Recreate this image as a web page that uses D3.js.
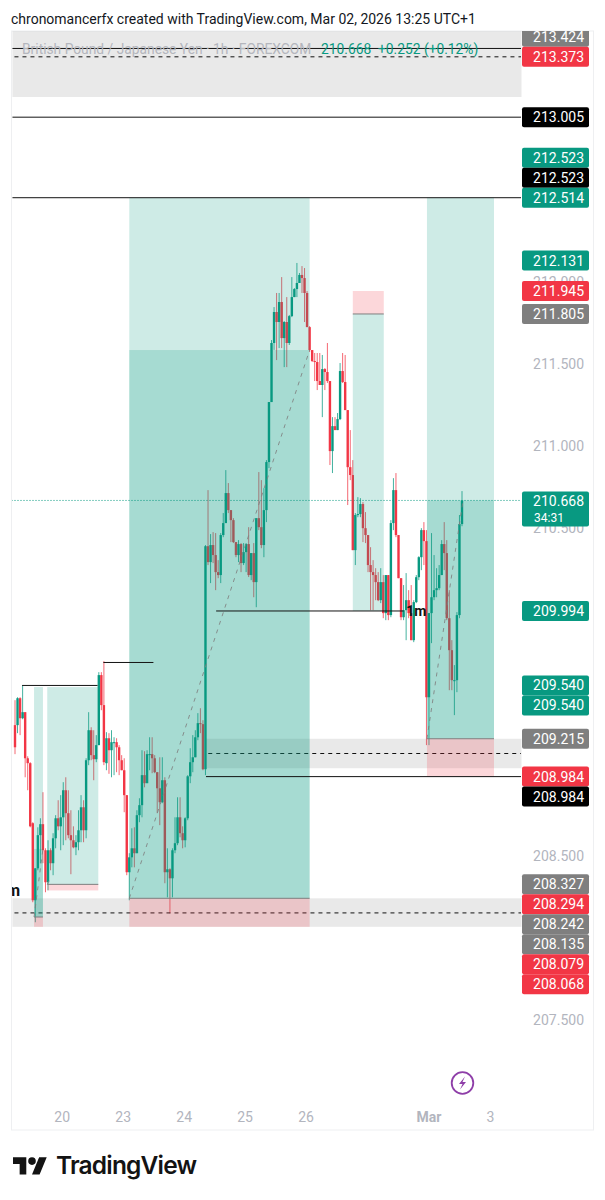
<!DOCTYPE html>
<html><head><meta charset="utf-8">
<script src="https://cdn.jsdelivr.net/npm/d3@7/dist/d3.min.js"></script>
<style>html,body{margin:0;padding:0;background:#fff}svg{display:block}text{font-family:Roboto,sans-serif}</style>
</head><body><div id="c"></div>
<script>
// ---- candle data (GBP/JPY 1h, FOREXCOM) ----
const opens=[209.298,209.298,209.462,209.340,209.377,209.096,209.066,208.700,208.230,208.425,208.627,208.694,208.535,208.340,208.535,208.456,208.608,208.730,208.681,208.736,208.901,208.761,208.627,208.596,208.553,208.584,208.657,208.797,208.657,209.084,209.267,209.115,209.090,209.176,209.603,209.420,209.066,209.218,209.145,209.194,209.194,209.163,209.084,209.023,208.871,208.401,208.492,208.547,208.517,208.749,208.810,208.993,208.944,209.121,209.121,209.096,209.011,208.913,208.828,208.962,208.401,208.419,208.364,208.535,208.578,208.736,208.639,208.596,208.730,208.986,209.072,209.102,209.224,209.310,209.304,209.029,210.389,210.292,210.396,210.335,210.231,210.213,210.457,210.530,210.713,210.609,210.548,210.414,210.335,210.402,210.286,210.353,210.402,210.213,210.347,210.170,210.560,210.505,210.396,210.609,210.902,211.268,211.628,211.817,211.756,211.878,211.658,211.756,211.628,211.792,211.908,211.957,211.994,212.043,212.024,211.933,211.725,211.585,211.518,211.512,211.396,211.372,211.469,211.451,211.396,210.969,211.121,211.097,211.164,211.457,211.390,211.219,210.871,210.823,210.365,210.579,210.585,210.646,210.499,210.457,210.274,210.231,210.213,210.170,210.060,210.170,209.981,210.213,209.969,210.530,210.731,210.457,210.194,209.956,209.999,210.060,209.981,209.816,210.048,210.200,210.322,210.487,210.420,209.468,209.981,210.078,210.121,210.133,210.213,210.402,210.347,209.950,209.755,209.572,209.572,209.969,210.524];
const highs=[209.450,209.468,209.468,209.542,209.377,209.108,209.072,208.706,208.425,208.675,208.730,208.889,208.547,208.596,208.547,208.639,208.749,208.840,208.871,208.950,208.980,208.901,208.779,208.681,208.627,208.779,208.871,208.840,209.096,209.377,209.285,209.267,209.237,209.621,209.621,209.688,209.255,209.249,209.267,209.224,209.218,209.176,209.115,209.096,208.871,208.517,208.669,208.675,208.779,208.852,209.145,209.139,209.145,209.224,209.224,209.115,209.011,209.102,209.102,208.980,208.547,208.425,208.547,208.736,208.858,208.858,208.681,208.736,208.993,209.157,209.237,209.267,209.371,209.401,209.328,210.396,210.731,210.463,210.475,210.469,210.304,210.469,210.591,210.853,210.774,210.609,210.560,210.414,210.426,210.408,210.408,210.408,210.505,210.347,210.408,210.560,210.841,210.792,210.743,210.914,211.268,211.646,211.847,211.933,211.933,212.030,211.762,211.908,211.799,212.030,211.963,212.116,212.055,212.097,212.085,211.945,211.731,211.585,211.567,211.567,211.567,211.555,211.475,211.628,211.396,211.176,211.176,211.201,211.506,211.567,211.555,211.219,211.097,210.914,210.591,210.688,210.682,210.658,210.597,210.457,210.383,210.304,210.255,210.231,210.255,210.213,210.213,210.213,210.548,210.804,210.835,210.457,210.194,210.152,210.225,210.121,210.152,210.060,210.213,210.328,210.499,210.536,210.487,209.981,210.469,210.335,210.255,210.274,210.426,210.536,210.426,210.121,209.816,209.664,209.987,210.579,210.725];
const lows=[209.121,209.249,209.237,209.334,208.980,208.901,208.675,208.218,208.096,208.413,208.456,208.456,208.279,208.291,208.413,208.383,208.547,208.657,208.535,208.566,208.596,208.608,208.389,208.547,208.505,208.535,208.584,208.584,208.608,209.054,209.084,208.962,209.072,209.176,209.389,209.054,209.023,209.001,208.980,208.993,209.011,208.993,209.023,208.767,208.383,208.230,208.431,208.431,208.517,208.706,208.736,208.919,208.944,209.023,209.005,209.005,208.761,208.688,208.822,208.334,208.248,208.150,208.248,208.517,208.566,208.614,208.547,208.553,208.718,208.944,209.011,209.102,209.206,209.249,209.023,208.993,210.274,210.164,210.286,210.121,210.194,210.164,210.444,210.530,210.591,210.414,210.408,210.322,210.292,210.231,210.274,210.231,210.201,210.182,210.078,210.017,210.487,210.377,210.322,210.536,210.865,211.268,211.586,211.524,211.597,211.597,211.481,211.481,211.616,211.786,211.908,211.908,211.994,211.933,211.756,211.725,211.573,211.512,211.396,211.341,211.372,211.176,211.341,211.384,210.884,210.835,211.097,211.097,211.158,211.384,211.219,210.640,210.792,210.365,210.274,210.566,210.566,210.414,210.408,210.231,209.999,209.999,210.060,210.054,210.042,209.950,209.938,209.938,209.956,210.487,210.444,210.194,209.938,209.938,209.816,209.950,209.816,209.804,210.042,210.182,210.243,210.274,209.176,209.176,209.798,210.060,210.078,210.121,210.213,210.243,209.938,209.511,209.511,209.359,209.499,209.950,210.511];
const closes=[209.163,209.462,209.340,209.377,209.096,209.066,208.681,208.230,208.425,208.627,208.694,208.535,208.340,208.535,208.456,208.608,208.730,208.681,208.736,208.901,208.761,208.627,208.596,208.553,208.584,208.657,208.797,208.657,209.084,209.267,209.115,209.090,209.176,209.603,209.420,209.072,209.218,209.145,209.194,209.194,209.163,209.084,209.023,208.871,208.401,208.492,208.547,208.517,208.749,208.810,208.993,208.944,209.121,209.121,209.096,209.011,208.913,208.828,208.962,208.401,208.419,208.364,208.535,208.578,208.736,208.639,208.596,208.730,208.986,209.072,209.102,209.224,209.310,209.304,209.029,210.389,210.292,210.396,210.335,210.231,210.213,210.457,210.530,210.713,210.609,210.548,210.414,210.335,210.402,210.286,210.353,210.402,210.213,210.347,210.170,210.560,210.505,210.396,210.609,210.902,211.268,211.628,211.817,211.756,211.878,211.658,211.756,211.628,211.792,211.908,211.957,211.994,212.043,212.024,211.933,211.725,211.585,211.518,211.512,211.396,211.372,211.469,211.451,211.396,210.969,211.121,211.097,211.164,211.457,211.390,211.219,210.871,210.823,210.365,210.579,210.585,210.646,210.499,210.457,210.274,210.231,210.213,210.170,210.060,210.170,209.981,210.213,209.969,210.530,210.731,210.457,210.194,209.956,209.999,210.060,209.981,209.816,210.048,210.200,210.322,210.487,210.420,209.468,209.981,210.078,210.121,210.133,210.213,210.402,210.347,209.950,209.755,209.572,209.572,209.969,210.524,210.668];

// ---- axes ----
const priceTicks=[207.5,208.5,210.5,211,211.5,212];
const timeTickBars=[18.4,42.4,66.4,90.4,114.4,162.8,187];
const timeTickLabels=["20","23","24","25","26","Mar","3"];

// ---- price labels on the right ----
const labelText=["213.424","213.373","213.005","212.523","212.523","212.514","212.131","211.945","211.805","209.994","209.540","209.540","209.215","208.984","208.984","208.327","208.294","208.242","208.135","208.079","208.068"];
const labelAnchor=[213.373,213.373,213.005,212.514,212.514,212.514,212.131,211.945,211.805,209.994,209.540,209.540,209.215,208.984,208.984,208.327,208.327,208.327,208.327,208.327,208.327];
const labelStep=[-1,0,0,-2,-1,0,0,0,0,0,0,1,0,0,1,0,1,2,3,4,5];
const labelKind=["g","r","k","t","k","t","t","r","g","t","t","t","g","r","k","g","r","g","g","r","r"];
const lastPrice=210.668, lastText="210.668", countdown="34:31";

// ---- drawings (prices and bar numbers) ----
const bandTop=[213.53,208.242,209.215], bandBottom=[213.128,208.068,209.035], bandStart=[-1,-1,75.3], bandMid=[213.373,208.153,209.125];
const solidPrice=[213.424,213.005,212.514,208.984,209.540,209.680,209.994], solidFrom=[-1,-1,-1,75.2,2.8,34.8,79.2], solidTo=[200,200,200,200,32.5,54.5,153];
const boxStart=[45,7.5,12.7,133,162.2], boxEnd=[116,11,32.8,145.2,188.6];
const boxEntry=[208.242,208.128,208.327,211.805,209.215];
const boxTarget=[212.514,209.530,209.530,209.994,212.514];
const boxStopEdge=[208.068,208.068,208.290,211.945,208.984];
const boxFillTop=[211.585,208.543,null,null,210.668];
const diagFromBar=[45,7.5,12.7,162.2], diagFromPrice=[208.242,208.128,208.327,209.215], diagToBar=[116,11,13.7,176.4], diagToPrice=[211.585,208.543,208.360,210.668];

const W=605,H=1200;
const frame={l:11.5,r:593.5,t:31,b:1130,plot:521};
const x=d3.scaleLinear().domain([0,176]).range([15,462]);
const y=d3.scaleLinear().domain([207.5,211.5]).range([1020,364]);
const UP="#089981",DOWN="#f23645";
const KIND={g:"#7f7f7f",r:"#f23645",k:"#000",t:"#089981"};

const svg=d3.select("#c").append("svg").attr("width",W).attr("height",H).attr("viewBox",`0 0 ${W} ${H}`);
const defs=svg.append("defs");
defs.append("clipPath").attr("id","plot").append("rect").attr("x",frame.l+.5).attr("y",frame.t).attr("width",frame.plot-frame.l).attr("height",frame.b-frame.t);
defs.append("clipPath").attr("id","all").append("rect").attr("x",frame.l).attr("y",frame.t).attr("width",frame.r-frame.l).attr("height",frame.b-frame.t);

svg.append("text").attr("x",11).attr("y",24).attr("font-size",14).attr("fill","#131722").text("chronomancerfx created with TradingView.com, Mar 02, 2026 13:25 UTC+1");
svg.append("rect").attr("x",frame.l).attr("y",frame.t).attr("width",frame.r-frame.l).attr("height",frame.b-frame.t).attr("fill","#fff").attr("stroke","#eeeff1");

const plot=svg.append("g").attr("clip-path","url(#plot)");

// axes
const yAxis=svg.append("g").attr("transform",`translate(584,0)`).call(d3.axisLeft(y).tickValues(priceTicks).tickFormat(d3.format(".3f")).tickSize(0));
yAxis.select(".domain").remove();
yAxis.selectAll("text").attr("x",0).attr("font-size",14).attr("font-family","Roboto").attr("fill","#b2b5be").attr("text-anchor","end");

const xAxis=svg.append("g").attr("transform","translate(0,1107)").call(d3.axisBottom(x).tickValues(timeTickBars).tickFormat((d,i)=>timeTickLabels[i]).tickSize(0));
xAxis.select(".domain").remove();
xAxis.selectAll("text").attr("font-size",14).attr("font-family","Roboto").attr("fill","#b2b5be").attr("font-weight",d=>d===162.8?700:400).attr("dy",12);

// legend
const leg=svg.append("g").attr("clip-path","url(#plot)");
leg.append("text").attr("x",22).attr("y",54).attr("font-size",13.8).attr("fill","#b4b6bd").text("British Pound / Japanese Yen · 1h · FOREXCOM");
leg.append("text").attr("x",321).attr("y",54).attr("font-size",13.8).attr("fill","#089981").style("white-space","pre").text("210.668  +0.252 (+0.12%)");

// dotted last price line
plot.append("line").attr("x1",frame.l).attr("x2",frame.plot).attr("y1",y(lastPrice)).attr("y2",y(lastPrice)).attr("stroke","#089981").attr("stroke-dasharray","1 2");

// candles
const bars=d3.range(opens.length).map(i=>({i,o:opens[i],h:highs[i],l:lows[i],c:closes[i]}));
const cg=plot.append("g");
cg.selectAll("line").data(bars).join("line").attr("x1",d=>x(d.i)).attr("x2",d=>x(d.i)).attr("y1",d=>y(d.h)).attr("y2",d=>y(d.l))
  .attr("stroke",d=>d.c>=d.o?UP:DOWN).attr("stroke-width",1).attr("opacity",.75);
cg.selectAll("rect").data(bars).join("rect").attr("x",d=>x(d.i)-1.2).attr("width",2.4)
  .attr("y",d=>y(Math.max(d.o,d.c))).attr("height",d=>Math.max(1,Math.abs(y(d.o)-y(d.c))))
  .attr("fill",d=>d.c>=d.o?UP:DOWN);

// grey bands
const ov=plot.append("g");
bandTop.forEach((t,i)=>{
  ov.append("rect").attr("x",x(bandStart[i])).attr("width",600).attr("y",y(t)).attr("height",y(bandBottom[i])-y(t)).attr("fill","rgba(120,120,120,.16)");
  ov.append("line").attr("x1",Math.max(x(bandStart[i])+2,frame.l)).attr("x2",frame.plot).attr("y1",y(bandMid[i])).attr("y2",y(bandMid[i])).attr("stroke","#111").attr("stroke-dasharray","4 4");
});

// position boxes
boxStart.forEach((s,i)=>{
  const x0=x(s),w=x(boxEnd[i])-x0;
  const profitTop=Math.min(y(boxTarget[i]),y(boxEntry[i])), profitBottom=Math.max(y(boxTarget[i]),y(boxEntry[i]));
  ov.append("rect").attr("x",x0).attr("width",w).attr("y",profitTop).attr("height",profitBottom-profitTop).attr("fill","rgba(8,153,129,.2)");
  if(boxFillTop[i]!==null) ov.append("rect").attr("x",x0).attr("width",w).attr("y",y(boxFillTop[i])).attr("height",y(boxEntry[i])-y(boxFillTop[i])).attr("fill","rgba(8,153,129,.2)");
  const a=Math.min(y(boxEntry[i]),y(boxStopEdge[i])), b=Math.max(y(boxEntry[i]),y(boxStopEdge[i]));
  ov.append("rect").attr("x",x0).attr("width",w).attr("y",a).attr("height",b-a).attr("fill","rgba(242,54,69,.2)");
  ov.append("line").attr("x1",x0).attr("x2",x0+w).attr("y1",y(boxEntry[i])).attr("y2",y(boxEntry[i])).attr("stroke","#7f7f7f");
});
// dashed diagonals
diagFromBar.forEach((b,i)=>ov.append("line").attr("x1",x(b)).attr("y1",y(diagFromPrice[i])).attr("x2",x(diagToBar[i])).attr("y2",y(diagToPrice[i])).attr("stroke","#7f7f7f").attr("stroke-opacity",.85).attr("stroke-dasharray","4 5"));

// solid level lines
solidPrice.forEach((p,i)=>ov.append("line").attr("x1",Math.max(x(solidFrom[i]),frame.l)).attr("x2",Math.min(x(solidTo[i]),frame.plot)).attr("y1",y(p)).attr("y2",y(p)).attr("stroke","#131313").attr("stroke-width",1));
ov.append("text").attr("x",x(154)).attr("y",y(209.994)+5).attr("font-size",14).attr("font-weight",700).attr("fill","#111").text("1m");
ov.append("text").attr("x",20).attr("y",896).attr("text-anchor","end").attr("font-size",16).attr("font-weight",700).attr("fill","#111").text("m");

// right labels
const lg=svg.append("g").attr("clip-path","url(#all)");
labelText.forEach((t,i)=>{
  const cy=y(labelAnchor[i])+labelStep[i]*20;
  lg.append("rect").attr("x",522).attr("width",67).attr("y",cy-10).attr("height",20).attr("rx",2).attr("fill",KIND[labelKind[i]]);
  lg.append("text").attr("x",584).attr("y",cy+5).attr("text-anchor","end").attr("font-size",14).attr("fill","#fff").text(t);
});
const ly=y(lastPrice);
lg.append("rect").attr("x",522).attr("width",67).attr("y",ly-9).attr("height",35).attr("rx",2).attr("fill",UP);
lg.append("text").attr("x",584).attr("y",ly+6).attr("text-anchor","end").attr("font-size",14).attr("fill","#fff").text(lastText);
lg.append("text").attr("x",534).attr("y",ly+22).attr("font-size",12).attr("fill","#fff").text(countdown);

// lightning icon
const ic=svg.append("g").attr("transform","translate(462.5,1083)");
ic.append("circle").attr("r",10.8).attr("fill","#fff").attr("stroke","#8e3ea8").attr("stroke-width",1.8);
ic.append("path").attr("d","M2.5 -6.5 L-3.5 1 L0 1 L-2.5 6.5 L3.5 -1 L0 -1 Z").attr("fill","#8e3ea8");

// TradingView logo
const lo=svg.append("g").attr("transform","translate(13,1153.5) scale(0.95)");
lo.append("path").attr("fill","#131313").attr("d","M14 22H7V11H0V4h14v18zM28 22h-8l7.5-18h8L28 22z");
lo.append("circle").attr("fill","#131313").attr("cx",20).attr("cy",8).attr("r",4);
svg.append("text").attr("x",56).attr("y",1174).attr("font-size",24.5).attr("font-weight",600).attr("fill","#131313").style("font-family","Inter").attr("textLength",141).text("TradingView");
</script></body></html>
